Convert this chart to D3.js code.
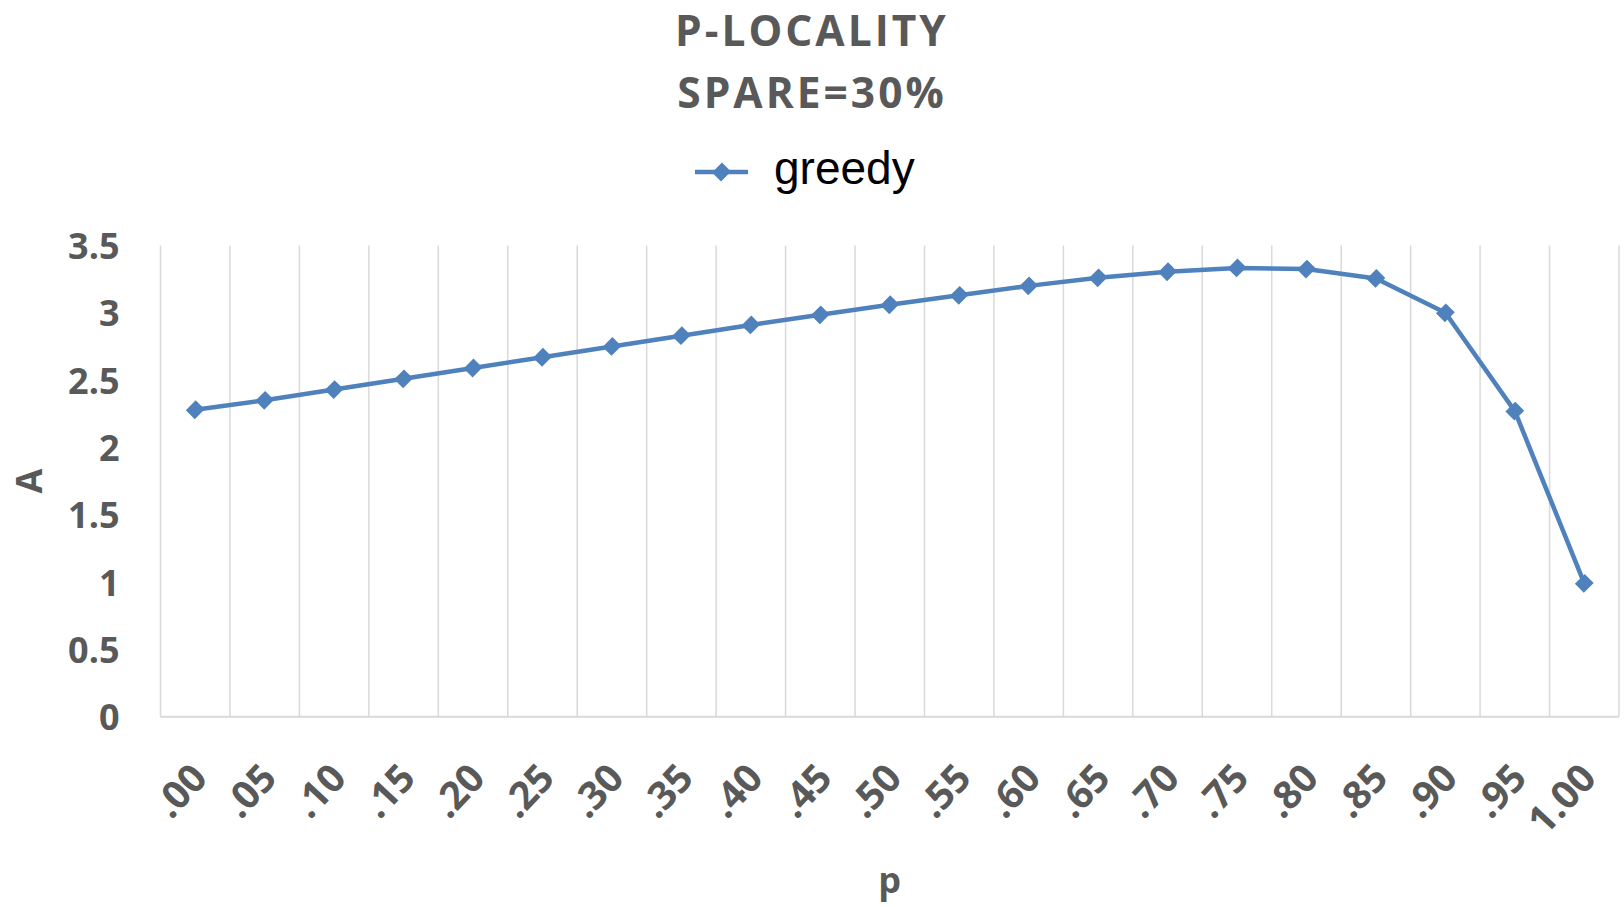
<!DOCTYPE html>
<html>
<head>
<meta charset="utf-8">
<script src="https://cdn.jsdelivr.net/npm/d3@7"></script>
<style>
  html, body { margin: 0; padding: 0; background: #ffffff; }
  svg { display: block; }
</style>
</head>
<body>
<svg id="chart" width="1624" height="907"></svg>
<script>
// ---- data ----
const categories = [".00", ".05", ".10", ".15", ".20", ".25", ".30", ".35", ".40", ".45",
                    ".50", ".55", ".60", ".65", ".70", ".75", ".80", ".85", ".90", ".95", "1.00"];
const greedy = [2.28, 2.35, 2.43, 2.51, 2.59, 2.67, 2.75, 2.83, 2.91, 2.985,
                3.06, 3.13, 3.20, 3.26, 3.305, 3.333, 3.325, 3.255, 3.0, 2.27, 0.99];
const yTicks = [0, 0.5, 1, 1.5, 2, 2.5, 3, 3.5];
const titleLines = ["P-LOCALITY", "SPARE=30%"];
const seriesName = "greedy";
const xTitle = "p";
const yTitle = "A";

// ---- layout ----
const W = 1624, H = 907;
const plot = { left: 160.5, right: 1619, top: 245.5, bottom: 716.7 };
const gray = "#595959";
const gridColor = "#d9d9d9";
const lineColor = "#4f81bd";

const svg = d3.select("#chart");

const x = d3.scaleBand().domain(categories).range([plot.left, plot.right]).padding(0);
const y = d3.scaleLinear().domain([0, 3.5]).range([plot.bottom, plot.top]);

// vertical gridlines at category boundaries
const bounds = categories.map(c => x(c)).concat([x(categories[categories.length - 1]) + x.bandwidth()]);
svg.append("g").selectAll("line").data(bounds).join("line")
  .attr("x1", d => d).attr("x2", d => d)
  .attr("y1", plot.top).attr("y2", plot.bottom)
  .attr("stroke", gridColor).attr("stroke-width", 1.5);

// bottom axis line
svg.append("line")
  .attr("x1", plot.left).attr("x2", plot.right)
  .attr("y1", plot.bottom).attr("y2", plot.bottom)
  .attr("stroke", gridColor).attr("stroke-width", 2);

// y axis
const yAxis = svg.append("g")
  .attr("transform", `translate(${plot.left},0)`)
  .call(d3.axisLeft(y).tickValues(yTicks).tickSize(0).tickPadding(41).tickFormat(d => String(d)));
yAxis.select(".domain").remove();
yAxis.selectAll("text")
  .attr("fill", gray)
  .attr("font-family", "'Open Sans', sans-serif")
  .attr("font-weight", 700)
  .attr("font-size", 36)
  .attr("dy", "0.36em");

// x axis
const xAxis = svg.append("g")
  .attr("transform", `translate(0,${plot.bottom})`)
  .call(d3.axisBottom(x).tickSize(0).tickPadding(0));
xAxis.select(".domain").remove();
xAxis.selectAll("text")
  .attr("fill", gray)
  .attr("font-family", "'Open Sans', sans-serif")
  .attr("font-weight", 700)
  .attr("font-size", 39)
  .attr("text-anchor", "end")
  .attr("x", 0).attr("y", 0).attr("dy", 0)
  .attr("transform", "translate(14,63) rotate(-47)");

// line
const line = d3.line()
  .x((d, i) => x(categories[i]) + x.bandwidth() / 2)
  .y(d => y(d));
svg.append("path")
  .datum(greedy)
  .attr("d", line)
  .attr("fill", "none")
  .attr("stroke", lineColor)
  .attr("stroke-width", 4.5)
  .attr("stroke-linejoin", "round");

// markers (diamonds)
const diamond = d3.symbol().type(d3.symbolSquare).size(160);
svg.append("g").selectAll("path").data(greedy).join("path")
  .attr("d", diamond)
  .attr("fill", lineColor)
  .attr("transform", (d, i) => `translate(${x(categories[i]) + x.bandwidth() / 2},${y(d)}) rotate(45) scale(1,1.1)`);

// title
svg.append("g").selectAll("text").data(titleLines).join("text")
  .attr("x", W / 2)
  .attr("y", (d, i) => 45.5 + i * 62)
  .attr("text-anchor", "middle")
  .attr("fill", gray)
  .attr("font-family", "'Open Sans', sans-serif")
  .attr("font-weight", 700)
  .attr("font-size", 42.5)
  .attr("letter-spacing", "3px")
  .text(d => d);

// legend
const lg = svg.append("g");
lg.append("line")
  .attr("x1", 695).attr("x2", 748).attr("y1", 172).attr("y2", 172)
  .attr("stroke", lineColor).attr("stroke-width", 4.5);
lg.append("path")
  .attr("d", diamond)
  .attr("fill", lineColor)
  .attr("transform", "translate(721.5,172) rotate(45) scale(1,1.1)");
lg.append("text")
  .attr("x", 774).attr("y", 184)
  .attr("fill", "#000000")
  .attr("font-family", "'Liberation Sans', Arial, sans-serif")
  .attr("font-size", 46)
  .text(seriesName);

// axis titles
svg.append("text")
  .attr("x", (plot.left + plot.right) / 2).attr("y", 893)
  .attr("text-anchor", "middle")
  .attr("fill", gray)
  .attr("font-family", "'Open Sans', sans-serif")
  .attr("font-weight", 700)
  .attr("font-size", 36)
  .text(xTitle);

svg.append("text")
  .attr("transform", `translate(42,${(plot.top + plot.bottom) / 2}) rotate(-90)`)
  .attr("text-anchor", "middle")
  .attr("fill", gray)
  .attr("font-family", "'Open Sans', sans-serif")
  .attr("font-weight", 700)
  .attr("font-size", 36)
  .text(yTitle);
</script>
</body>
</html>
